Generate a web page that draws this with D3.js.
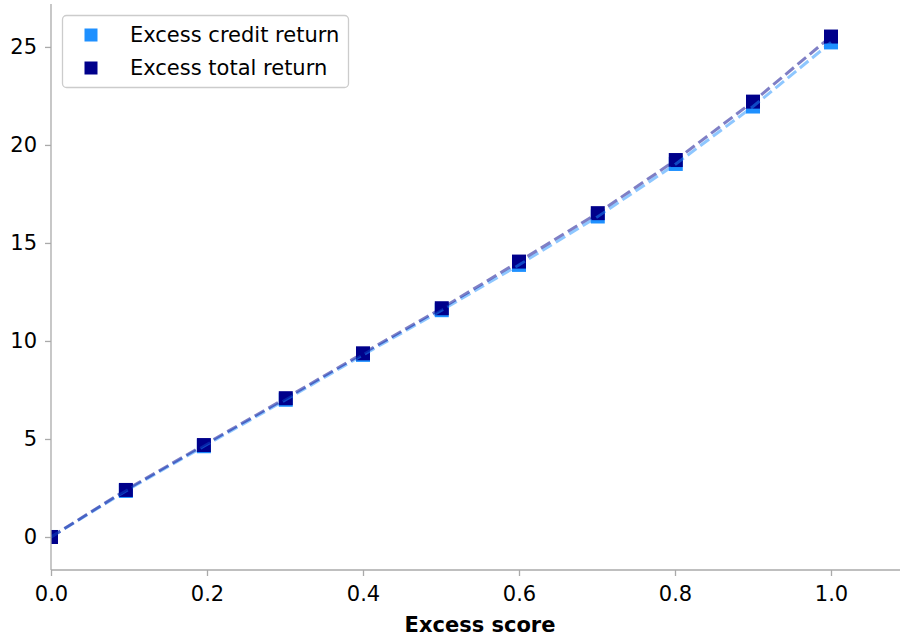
<!DOCTYPE html>
<html>
<head>
<meta charset="utf-8">
<script src="https://cdn.jsdelivr.net/npm/d3@7"></script>
<style>
  html, body { margin: 0; padding: 0; background: #fff; }
  svg { display: block; font-family: "DejaVu Sans", sans-serif; }
</style>
</head>
<body>
<svg id="chart" width="900" height="638"></svg>
<script>
// ---- data ----
const scores = [0, 0.096, 0.196, 0.301, 0.4, 0.501, 0.6, 0.701, 0.801, 0.9, 1.0];
const excessTotalReturn = [0, 2.40, 4.69, 7.08, 9.37, 11.67, 14.05, 16.52, 19.23, 22.21, 25.53];
const excessCreditReturn = [0, 2.35, 4.63, 7.00, 9.29, 11.57, 13.88, 16.35, 19.03, 21.96, 25.23];
const xTicks = [0, 0.2, 0.4, 0.6, 0.8, 1.0];
const yTicks = [0, 5, 10, 15, 20, 25];
const seriesNames = ["Excess credit return", "Excess total return"];
const seriesColors = ["#1E90FF", "#00008B"];

(function () {
const svg = d3.select("#chart");
const mLeft = 51, mRight = 909, mTop = 4, mBottom = 570;
const fs = "21px";

const x = d3.scaleLinear().domain([0, 1.1]).range([mLeft, mRight]);
const y = d3.scaleLinear().domain([-1.684, 27.19]).range([mBottom, mTop]);

svg.append("defs").append("clipPath").attr("id", "clip")
  .append("rect").attr("x", mLeft).attr("y", mTop).attr("width", mRight - mLeft).attr("height", mBottom - mTop);

const series = [excessCreditReturn, excessTotalReturn].map((vals, i) => ({
  name: seriesNames[i], color: seriesColors[i],
  pts: scores.map((s, j) => ({ x: s, y: vals[j] }))
}));

const plot = svg.append("g").attr("clip-path", "url(#clip)");
const ms = 14;
series.forEach(s => {
  plot.append("g").selectAll("rect").data(s.pts).join("rect")
    .attr("x", d => x(d.x) - ms / 2)
    .attr("y", d => y(d.y) - ms / 2)
    .attr("width", ms).attr("height", ms)
    .attr("fill", s.color);
});
const line = d3.line().x(d => x(d.x)).y(d => y(d.y));
series.forEach(s => {
  plot.append("path").datum(s.pts)
    .attr("d", line)
    .attr("fill", "none")
    .attr("stroke", s.color)
    .attr("stroke-opacity", 0.5)
    .attr("stroke-width", 3)
    .attr("stroke-dasharray", "11,4.8");
});

const axisColor = "#aaaaaa";
const xAxis = svg.append("g").attr("transform", `translate(0,${mBottom})`)
  .call(d3.axisBottom(x).tickValues(xTicks).tickFormat(d3.format(".1f")).tickSize(6).tickPadding(10));
const yAxis = svg.append("g").attr("transform", `translate(${mLeft},0)`)
  .call(d3.axisLeft(y).tickValues(yTicks).tickFormat(d3.format("d")).tickSize(6).tickPadding(8));
[xAxis, yAxis].forEach(a => {
  a.select(".domain").remove();
  a.selectAll(".tick line").attr("stroke", axisColor).attr("stroke-width", 1.3);
  a.selectAll(".tick text").attr("fill", "#000").style("font-size", fs).style("font-family", "DejaVu Sans");
});
svg.append("line").attr("x1", mLeft).attr("x2", 900).attr("y1", mBottom).attr("y2", mBottom)
  .attr("stroke", axisColor).attr("stroke-width", 1.3);
svg.append("line").attr("x1", mLeft).attr("x2", mLeft).attr("y1", mTop).attr("y2", mBottom)
  .attr("stroke", axisColor).attr("stroke-width", 1.3);

svg.append("text").attr("x", (mLeft + mRight) / 2).attr("y", 632)
  .attr("text-anchor", "middle").style("font-size", fs).style("font-weight", "bold")
  .text("Excess score");

const lg = svg.append("g");
lg.append("rect").attr("x", 62.5).attr("y", 15.5).attr("width", 286).attr("height", 72).attr("rx", 4)
  .attr("fill", "#fff").attr("fill-opacity", 0.8).attr("stroke", "#cccccc").attr("stroke-width", 1.3);
series.forEach((s, i) => {
  const cy = 35 + i * 33;
  lg.append("rect").attr("x", 91 - 6.5).attr("y", cy - 6.5).attr("width", 13).attr("height", 13).attr("fill", s.color);
  lg.append("text").attr("x", 130).attr("y", cy).attr("dy", "0.35em").style("font-size", fs).text(s.name);
});
})();
</script>
</body>
</html>
